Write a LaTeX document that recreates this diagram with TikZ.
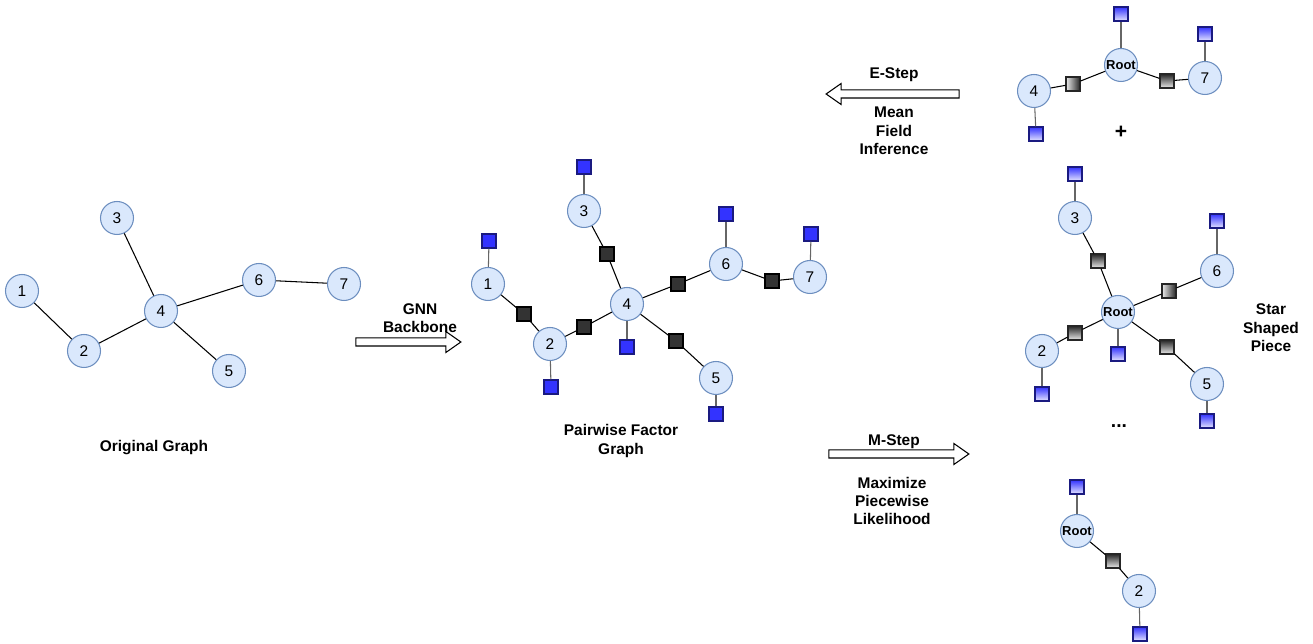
\documentclass[tikz,border=0pt]{standalone}
\usepackage{fontspec}
\setmainfont{Liberation Sans}
\usetikzlibrary{shapes.arrows}

\definecolor{varfill}{HTML}{DAE8FC}
\definecolor{varline}{HTML}{6C8EBF}
\definecolor{facdark}{HTML}{333333}
\definecolor{uniblue}{HTML}{3333FF}
\definecolor{uniline}{HTML}{1A1A80}

\tikzset{
  var/.style={circle, draw=varline, fill=varfill, minimum size=0.66cm, inner sep=0pt, font=\fontsize{8.8}{10}\selectfont},
  rootvar/.style={var, font=\fontsize{7.4}{9}\selectfont\bfseries},
  pairfac/.style={rectangle, draw=black, fill=facdark, minimum size=0.28cm, inner sep=0pt},
  unifac/.style={rectangle, draw=uniline, fill=uniblue, minimum size=0.28cm, inner sep=0pt},
  shadefac/.style={rectangle, draw=black!85, top color=black!85, bottom color=black!8, minimum size=0.28cm, inner sep=0pt},
  sidefac/.style={rectangle, draw=black!85, left color=black!8, right color=black!85, minimum size=0.28cm, inner sep=0pt},
  shadeuni/.style={rectangle, draw=uniline, top color=uniblue, bottom color=uniblue!12, minimum size=0.28cm, inner sep=0pt},
  txt/.style={align=center, font=\fontsize{8.8}{10.5}\selectfont\bfseries},
  blockarrow/.style={single arrow, draw=black, fill=white, inner xsep=0pt, inner ysep=0.07cm,
    single arrow head extend=0.13cm, single arrow tip angle=70, single arrow head indent=0pt},
  uniedge/.style={draw=black!60},
}

\begin{document}
\begin{tikzpicture}[x=0.02cm, y=-0.02cm, line width=0.6pt]

\useasboundingbox (0,0) rectangle (1313,644);

%original graph
\node[var] (o1) at (22,291) {1};
\node[var] (o2) at (84,351) {2};
\node[var] (o3) at (117,218) {3};
\node[var] (o4) at (161,311) {4};
\node[var] (o5) at (229,371) {5};
\node[var] (o6) at (259,280) {6};
\node[var] (o7) at (344,284) {7};
\draw (o1) -- (o2);
\draw (o2) -- (o4);
\draw (o3) -- (o4);
\draw (o4) -- (o5);
\draw (o4) -- (o6);
\draw (o6) -- (o7);
\node[txt] (otitle) at (154,448) {Original Graph};

%gnn arrow
\node[blockarrow, minimum height=2.1cm] (gnnarrow) at (405.5,342) {};
\node[txt] (gnntxt) at (420,318) {GNN\\Backbone};

%pairwise factor graph
\node[var] (p1) at (488,284) {1};
\node[var] (p2) at (550,344) {2};
\node[var] (p3) at (584,211) {3};
\node[var] (p4) at (627,304) {4};
\node[var] (p5) at (716,378) {5};
\node[var] (p6) at (726,264) {6};
\node[var] (p7) at (810,277) {7};
\node[pairfac] (f12) at (524,314) {};
\node[pairfac] (f24) at (584,327) {};
\node[pairfac] (f34) at (607,254) {};
\node[pairfac] (f46) at (678,284) {};
\node[pairfac] (f45) at (676,341) {};
\node[pairfac] (f67) at (772,281) {};
\node[unifac] (u1) at (489,241) {};
\node[unifac] (u2) at (551,387) {};
\node[unifac] (u3) at (584,167) {};
\node[unifac] (u4) at (627,347) {};
\node[unifac] (u5) at (716,414) {};
\node[unifac] (u6) at (726,214) {};
\node[unifac] (u7) at (811,234) {};
\draw (p1) -- (f12) -- (p2);
\draw (p2) -- (f24) -- (p4);
\draw (p3) -- (f34) -- (p4);
\draw (p4) -- (f46) -- (p6);
\draw (p4) -- (f45) -- (p5);
\draw (p6) -- (f67) -- (p7);
\foreach \v in {1,...,7}
  \draw[uniedge] (p\v) -- (u\v);
\node[txt] (ptitle) at (621,441) {Pairwise Factor\\Graph};

%e-step
\node[blockarrow, minimum height=2.66cm, rotate=180] (earrow) at (895.5,94) {};
\node[txt] (etxt) at (894,75) {E-Step};
\node[txt] (etxt2) at (894,131) {Mean\\Field\\Inference};
\node[rootvar] (eR) at (1121,65) {Root};
\node[var] (e4) at (1034,91) {4};
\node[var] (e7) at (1205,78) {7};
\node[sidefac] (ef4) at (1073,84) {};
\node[shadefac] (ef7) at (1167,81) {};
\node[shadeuni] (euR) at (1121,14) {};
\node[shadeuni] (eu4) at (1036,134) {};
\node[shadeuni] (eu7) at (1205,34) {};
\draw (e4) -- (ef4) -- (eR);
\draw (eR) -- (ef7) -- (e7);
\draw[uniedge] (eR) -- (euR);
\draw[uniedge] (e4) -- (eu4);
\draw[uniedge] (e7) -- (eu7);
\node[txt, font=\fontsize{12}{13}\selectfont\bfseries] (plus) at (1121,132) {+};

%star shaped piece
\node[rootvar] (sR) at (1118,312) {Root};
\node[var] (s3) at (1075,218) {3};
\node[var] (s6) at (1217,271) {6};
\node[var] (s2) at (1042,351) {2};
\node[var] (s5) at (1207,384) {5};
\node[shadefac] (sf3) at (1098,261) {};
\node[sidefac] (sf6) at (1169,291) {};
\node[shadefac] (sf2) at (1075,333) {};
\node[shadefac] (sf5) at (1167,347) {};
\node[shadeuni] (suR) at (1118,354) {};
\node[shadeuni] (su3) at (1075,174) {};
\node[shadeuni] (su6) at (1217,221) {};
\node[shadeuni] (su2) at (1042,394) {};
\node[shadeuni] (su5) at (1207,421) {};
\foreach \v in {3,6,2,5}
  \draw (sR) -- (sf\v) -- (s\v);
\foreach \v in {R,3,6,2,5}
  \draw[uniedge] (s\v) -- (su\v);
\node[txt] (stxt) at (1271,328) {Star\\Shaped\\Piece};
\node[txt, font=\fontsize{11}{12}\selectfont\bfseries] (dots) at (1119,426) {...};

%m-step
\node[blockarrow, minimum height=2.8cm] (marrow) at (896,454) {};
\node[txt] (mtxt) at (894,442) {M-Step};
\node[txt] (mtxt2) at (892,501) {Maximize\\Piecewise\\Likelihood};
\node[rootvar] (mR) at (1077,531) {Root};
\node[var] (m2) at (1139,591) {2};
\node[shadefac] (mf) at (1113,561) {};
\node[shadeuni] (muR) at (1077,487) {};
\node[shadeuni] (mu2) at (1140,634) {};
\draw (mR) -- (mf) -- (m2);
\draw[uniedge] (mR) -- (muR);
\draw[uniedge] (m2) -- (mu2);

\end{tikzpicture}
\end{document}
